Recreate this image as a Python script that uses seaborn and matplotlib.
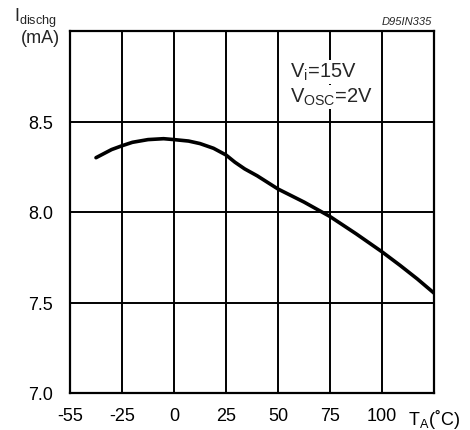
import matplotlib
matplotlib.use("Agg")
import matplotlib.pyplot as plt
import seaborn as sns
import pandas as pd

# Discharge current vs ambient temperature (grid-position temperature units)
temp = [-37.5, -30, -25, -20, -12.5, -5, 0, 7, 12.5, 19, 25, 29.3, 34,
        40, 50, 62.5, 75, 87.5, 100, 108.7, 117, 125]
i_dischg = [8.30, 8.345, 8.366, 8.385, 8.40, 8.405, 8.40, 8.392, 8.378, 8.352,
            8.315, 8.275, 8.238, 8.20, 8.127, 8.055, 7.975, 7.88, 7.78,
            7.705, 7.63, 7.552]

x_grid = [-50, -25, 0, 25, 50, 75, 100, 125]
x_labels = ["-55", "-25", "0", "25", "50", "75", "100", r"T$_\mathregular{A}$(˚C)"]
y_grid = [7.0, 7.5, 8.0, 8.5, 9.0]
y_labels = ["7.0", "7.5", "8.0", "8.5", ""]

sns.set_theme(style="white")
plt.rcParams["font.family"] = ["Liberation Sans", "DejaVu Sans"]

fig = plt.figure(figsize=(4.70, 4.31), dpi=100)
ax = fig.add_axes([70 / 470, 1 - 394 / 431, 364 / 470, 362 / 431])

df = pd.DataFrame({"T": temp, "I": i_dischg})
sns.lineplot(data=df, x="T", y="I", ax=ax, color="black", linewidth=2.6,
             solid_capstyle="round", zorder=3)

ax.set_xlim(-50, 125)
ax.set_ylim(7.0, 9.0)
ax.set_xticks(x_grid)
ax.set_xticklabels(x_labels, fontsize=13)
ax.set_yticks(y_grid)
ax.set_yticklabels(y_labels, fontsize=13)
ax.tick_params(axis="x", length=0, pad=10, colors="black")
ax.tick_params(axis="y", length=0, pad=12, colors="black")
ax.set_xlabel("")
ax.set_ylabel("")

ax.grid(True, color="black", linewidth=1.4)
for s in ax.spines.values():
    s.set_visible(True)
    s.set_color("black")
    s.set_linewidth(1.6)

fig.text(14 / 470, 1 - 22 / 431, r"I$_\mathregular{dischg}$", fontsize=13,
         ha="left", va="baseline")
fig.text(40 / 470, 1 - 43 / 431, "(mA)", fontsize=13, ha="center", va="baseline")
fig.text(432 / 470, 1 - 25 / 431, "D95IN335", fontsize=8, style="italic",
         ha="right", va="baseline")

ax.text(290 / 470, 1 - 78 / 431, r"V$_\mathregular{i}$=15V", fontsize=14.5,
        transform=fig.transFigure, ha="left", va="baseline", zorder=5,
        bbox=dict(facecolor="white", edgecolor="none", pad=1))
ax.text(290 / 470, 1 - 103 / 431, r"V$_\mathregular{OSC}$=2V", fontsize=14.5,
        transform=fig.transFigure, ha="left", va="baseline", zorder=5,
        bbox=dict(facecolor="white", edgecolor="none", pad=1))

fig.savefig("out.png", dpi=100, facecolor="white")
